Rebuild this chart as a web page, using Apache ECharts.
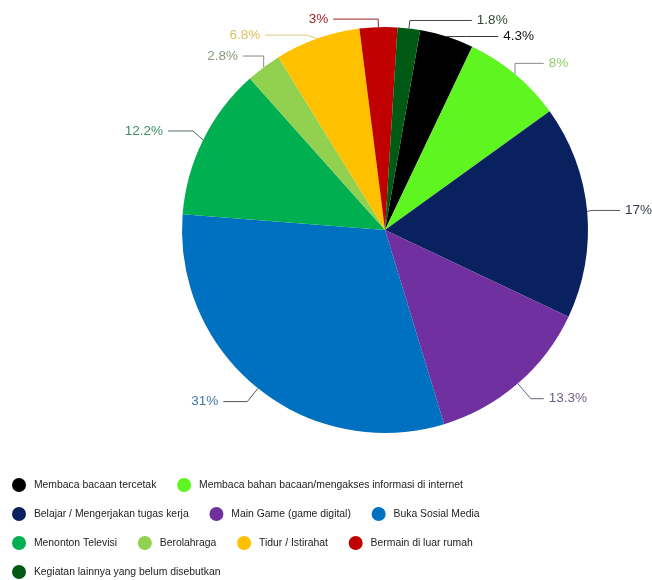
<!DOCTYPE html>
<html>
<head>
<meta charset="utf-8">
<script src="https://cdn.jsdelivr.net/npm/echarts@6/dist/echarts.min.js"></script>
<style>
html,body{margin:0;padding:0;background:#fff;}
#chart{width:652px;height:580px;}
</style>
</head>
<body>
<div id="chart"></div>
<script>
var categories = [
  "Membaca bacaan tercetak",
  "Membaca bahan bacaan/mengakses informasi di internet",
  "Belajar / Mengerjakan tugas kerja",
  "Main Game (game digital)",
  "Buka Sosial Media",
  "Menonton Televisi",
  "Berolahraga",
  "Tidur / Istirahat",
  "Bermain di luar rumah",
  "Kegiatan lainnya yang belum disebutkan"
];
var values = [4.3, 8, 17, 13.3, 31, 12.2, 2.8, 6.8, 3, 1.8];
var colors = ["#000000", "#5ef521", "#0a2160", "#7030a0", "#0070c0", "#00b050", "#92d050", "#ffc000", "#c00000", "#005a14"];
var labelColors = ["#111111", "#8fcf6a", "#333a4a", "#6e5c86", "#3d78a8", "#3e8f6c", "#8a9a7a", "#d9c060", "#9a2020", "#2e4a33"];
var lineColors = ["#333333", "#888888", "#555555", "#6e5c86", "#555555", "#556a60", "#888888", "#d9c87a", "#9a2020", "#444444"];
var lineLen = [10, 14, 10, 20, 17, 20, 14, 14, 8, 8];
var lineLen2 = [32, 30, 28, 13, 24, 25, 24, 41, 45, 62];

var chart = echarts.init(document.getElementById('chart'));
var data = categories.map(function (c, i) {
  return {
    name: c,
    value: values[i],
    itemStyle: { color: colors[i] },
    label: { color: labelColors[i] },
    labelLine: { length: lineLen[i], length2: lineLen2[i], lineStyle: { color: lineColors[i] } }
  };
});
chart.setOption({
  animation: false,
  legend: {
    left: 7,
    top: 473,
    width: 540,
    icon: 'circle',
    itemWidth: 14,
    itemHeight: 14,
    itemGap: 15,
    formatter: function (name) { return ' ' + name + '  '; },
    textStyle: { fontFamily: 'Liberation Sans', fontSize: 10.4, color: '#222' },
    data: categories
  },
  series: [{
    type: 'pie',
    center: [385, 230],
    radius: 203,
    startAngle: 80,
    clockwise: true,
    data: data,
    label: {
      show: true,
      position: 'outside',
      overflow: 'none',
      fontFamily: 'Liberation Sans',
      fontSize: 13.5,
      formatter: function (p) { return p.value + '%'; }
    },
    labelLine: { show: true, lineStyle: { width: 1 } },
    emphasis: { disabled: true }
  }]
});
</script>
</body>
</html>
